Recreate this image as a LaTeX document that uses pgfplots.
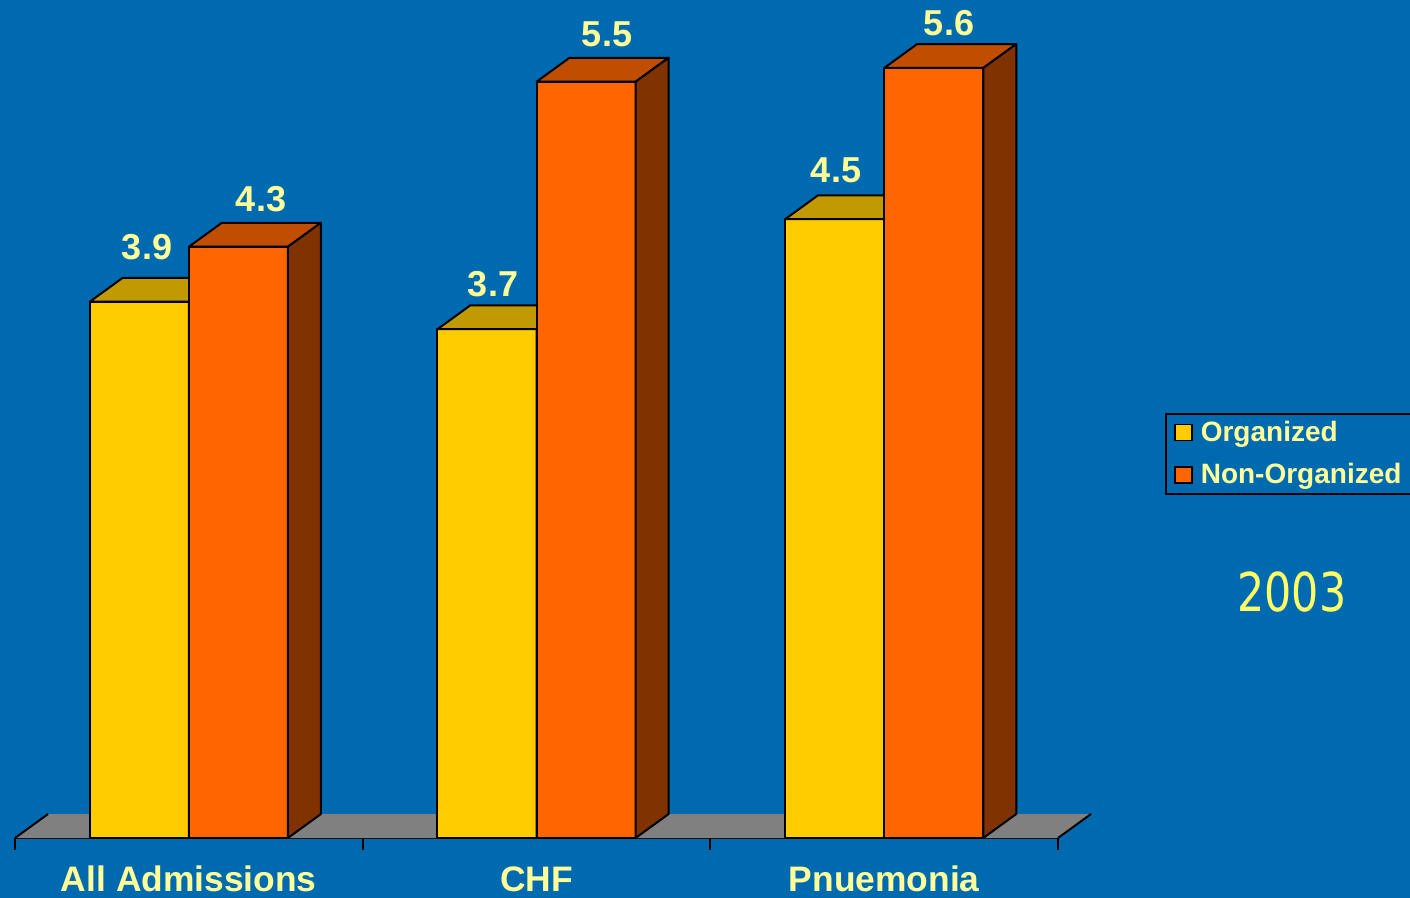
\documentclass[border=0pt]{standalone}
\usepackage{graphicx}
\usepackage{pgfplots}
\pgfplotsset{compat=1.18}
\usepackage{fontspec}
\setmainfont{Liberation Sans}
\newfontfamily\yearfont{DejaVu Sans}
\definecolor{bg}{RGB}{0,106,176}
\definecolor{yfront}{RGB}{255,204,0}
\definecolor{ytop}{RGB}{192,154,0}
\definecolor{yside}{RGB}{128,102,0}
\definecolor{ofront}{RGB}{255,102,0}
\definecolor{otop}{RGB}{192,77,0}
\definecolor{oside}{RGB}{128,51,0}
\definecolor{floorgray}{RGB}{128,128,128}
\definecolor{txt}{RGB}{255,255,153}
\definecolor{yeartxt}{RGB}{255,255,102}

% #1 left x of bar, #2 value, #3 front colour, #4 top colour, #5 side colour
\newcommand{\threedbar}[5]{%
  \pgfmathsetmacro{\xl}{#1}%
  \pgfmathsetmacro{\xr}{#1+0.285}%
  \pgfmathsetmacro{\xlb}{#1+0.095}%
  \pgfmathsetmacro{\xrb}{#1+0.38}%
  \pgfmathsetmacro{\yb}{#2+0.1745}%
  \addplot[fill=#3, draw=black, line width=1pt, line join=round, forget plot]
    coordinates {(\xl,0) (\xr,0) (\xr,#2) (\xl,#2)} -- cycle;
  \addplot[fill=#4, draw=black, line width=1pt, line join=round, forget plot]
    coordinates {(\xl,#2) (\xr,#2) (\xrb,\yb) (\xlb,\yb)} -- cycle;
  \addplot[fill=#5, draw=black, line width=1pt, line join=round, forget plot]
    coordinates {(\xr,0) (\xrb,0.1745) (\xrb,\yb) (\xr,#2)} -- cycle;
}

\begin{document}
\begin{tikzpicture}
\path[use as bounding box] (0,0) rectangle (705pt,-449pt);
\fill[bg] (0,0) rectangle (705pt,-449pt);
\clip (0,0) rectangle (705pt,-449pt);
\begin{axis}[
  at={(7.5pt,-419pt)}, anchor=south west,
  scale only axis, width=521.5pt, height=412.5pt,
  xmin=-0.5, xmax=2.5, ymin=0, ymax=6,
  clip=false,
  axis x line*=bottom, axis y line=none,
  x axis line style={-, black, line width=1pt},
  xtick={-0.5,0.5,1.5,2.5}, xticklabels={},
  xtick align=outside, major tick length=6pt,
  tick style={black, line width=1pt},
  ytick=\empty,
  legend style={at={(1.1026,0.5152)}, anchor=north west, draw=black, line width=1pt,
    fill=none, text=txt, font=\fontsize{14}{16}\selectfont\bfseries,
    row sep=5.5pt, inner xsep=4pt, inner ysep=1.5pt},
  legend cell align=left,
  legend image code/.code={\draw[#1, draw=black, line width=0.8pt] (0pt,-4pt) rectangle (8.5pt,4pt);
    \path[draw=none, fill=none] (0pt,0pt) -- (11pt,0pt);},
]
% floor
\addplot[fill=floorgray, draw=none, forget plot]
  coordinates {(-0.5,0) (2.5,0) (2.595,0.1745) (-0.405,0.1745)} -- cycle;
\addplot[black, line width=1pt, forget plot] coordinates {(-0.5,0) (-0.405,0.1745)};
\addplot[black, line width=1pt, forget plot] coordinates {(2.5,0) (2.595,0.1745)};

% bars: Organized (left), Non-Organized (right)
\threedbar{-0.285}{3.9}{yfront}{ytop}{yside}
\threedbar{0}{4.3}{ofront}{otop}{oside}
\threedbar{0.715}{3.7}{yfront}{ytop}{yside}
\threedbar{1}{5.5}{ofront}{otop}{oside}
\threedbar{1.715}{4.5}{yfront}{ytop}{yside}
\threedbar{2}{5.6}{ofront}{otop}{oside}

\addlegendimage{fill=yfront}\addlegendentry{Organized}
\addlegendimage{fill=ofront}\addlegendentry{Non-Organized\hspace*{12pt}}

% value labels
\begin{scope}[every node/.style={anchor=base, text=txt, font=\fontsize{18}{20}\selectfont\bfseries}]
\node at (axis cs:-0.1203,4.204) {3.9};
\node at (axis cs:0.2076,4.553) {4.3};
\node at (axis cs:0.8749,3.935) {3.7};
\node at (axis cs:1.2028,5.753) {5.5};
\node at (axis cs:1.8615,4.764) {4.5};
\node at (axis cs:2.1865,5.833) {5.6};
\end{scope}

% category labels
\begin{scope}[every node/.style={anchor=base, text=txt, font=\fontsize{17.7}{20}\selectfont\bfseries, yshift=-27pt}]
\node at (axis cs:0,0) {All Admissions};
\node at (axis cs:1,0) {CHF};
\node at (axis cs:2,0) {Pnuemonia};
\end{scope}
\end{axis}
\node[anchor=base, text=yeartxt, inner sep=0pt] at (646pt,-306pt)
  {\yearfont\fontsize{26.75}{30}\selectfont\scalebox{0.8}[1]{2003}};
\end{tikzpicture}
\end{document}
